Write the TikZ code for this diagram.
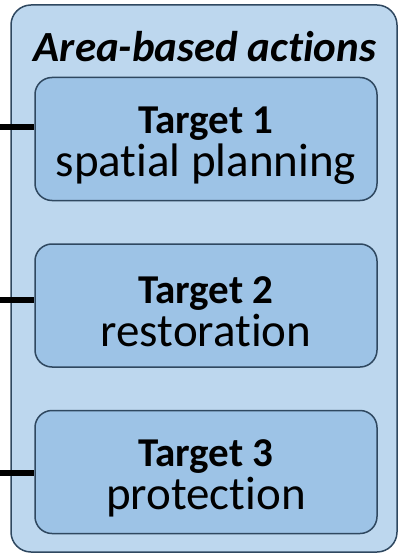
\documentclass[tikz,border=0pt]{standalone}
\usepackage{fontspec}
\setmainfont{Carlito}[Ligatures=NoCommon]
\usepackage{tikz}
\usetikzlibrary{positioning, calc}

\definecolor{areafill}{RGB}{189,215,238}
\definecolor{targetfill}{RGB}{157,195,230}
\definecolor{edgeblue}{RGB}{47,72,96}

\newcommand{\tgt}[1]{{\fontsize{41}{43}\selectfont\bfseries\rule{0pt}{40pt}#1}}

\begin{document}
\begin{tikzpicture}[
        x=1pt, y=-1pt,
        node distance=42pt,
        area/.style={rectangle, draw=edgeblue, line width=1.5pt, fill=areafill, rounded corners=20pt, minimum width=386pt, minimum height=547pt},
        target/.style={rectangle, draw=edgeblue, line width=1.5pt, fill=targetfill, rounded corners=17pt, minimum width=342pt, minimum height=123pt, align=center, font=\fontsize{47}{43}\selectfont},
        stub/.style={line width=6pt, black}
    ]
        \useasboundingbox (0,0) rectangle (398,553);
        \node[area] (A) at (204,278.5) {};
        \node[font=\fontsize{43}{44}\selectfont\bfseries\itshape] (title) at (205,47) {Area-based actions};

        \node[target] (T1) at (206,139) {\tgt{Target 1}\\spatial planning};
        \node[target, below=of T1] (T2) {\tgt{Target 2}\\restoration};
        \node[target, below=of T2] (T3) {\tgt{Target 3}\\protection};

        \coordinate (s1) at (0,127);
        \coordinate (s2) at (0,300);
        \coordinate (s3) at (0,473);
        \draw[stub] (s1) -- (s1 -| T1.west);
        \draw[stub] (s2) -- (s2 -| T2.west);
        \draw[stub] (s3) -- (s3 -| T3.west);
    \end{tikzpicture}
\end{document}
